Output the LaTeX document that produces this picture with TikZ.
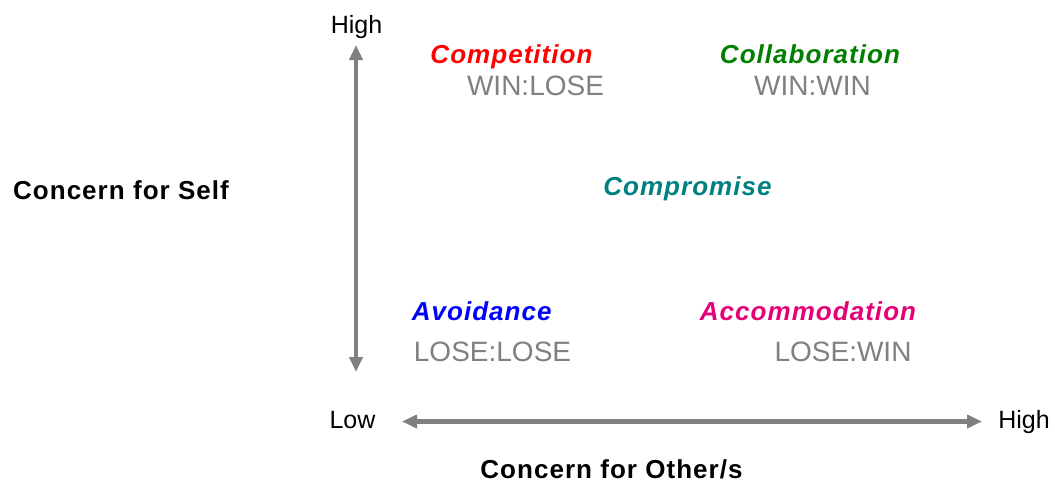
\documentclass[tikz,border=0pt]{standalone}
\usepackage{fontspec}
\setmainfont{Liberation Sans}
\usetikzlibrary{arrows.meta}
\definecolor{axisgray}{RGB}{128,128,128}
\definecolor{labelgray}{RGB}{128,128,128}
\definecolor{cred}{RGB}{255,0,0}
\definecolor{cgreen}{RGB}{0,128,0}
\definecolor{cteal}{RGB}{0,128,128}
\definecolor{cblue}{RGB}{0,0,255}
\definecolor{cmagenta}{RGB}{230,0,120}
\newfontfamily\spacedbold[LetterSpace=4]{Liberation Sans}
\begin{document}
\begin{tikzpicture}[x=1pt,y=-1pt,
  txt/.style={inner sep=0pt,anchor=base},
  axislabel/.style={txt,font=\fontsize{25}{30}\selectfont},
  axistitle/.style={txt,font=\fontsize{26}{31}\spacedbold\bfseries},
  modename/.style={txt,font=\fontsize{26}{31}\spacedbold\bfseries\itshape},
  outcome/.style={txt,text=labelgray,font=\fontsize{28}{33}\selectfont},
  axisarrow/.style={draw=axisgray,line width=4.5pt,
    {Triangle[length=15pt,width=13pt]}-{Triangle[length=15pt,width=13pt]}}]
\useasboundingbox (0,0) rectangle (1055,485);

% axis end points
\coordinate (vtop) at (356,45);
\coordinate (vbot) at (356,372);
\coordinate (hleft) at (402,421.5);
\coordinate (hright) at (982,421.5);

\draw[axisarrow] (vbot) -- (vtop);
\draw[axisarrow] (hleft) -- (hright);

% axis labels
\node[axislabel] (hightop) at (356.5,33) {High};
\node[axislabel] (low) at (352.5,428) {Low};
\node[axislabel] (highright) at (1024,428.3) {High};
\node[axistitle] (self) at (121,199.3) {Concern for Self};
\node[axistitle] (others) at (611.5,478.5) {Concern for Other/s};

% conflict modes
\node[modename,text=cred] (competition) at (511.5,63.3) {Competition};
\node[outcome] (winlose) at (535.5,95) {WIN:LOSE};
\node[modename,text=cgreen] (collaboration) at (810,63.3) {Collaboration};
\node[outcome] (winwin) at (812.5,95) {WIN:WIN};
\node[modename,text=cteal] (compromise) at (687.5,195) {Compromise};
\node[modename,text=cblue] (avoidance) at (481.7,320.7) {Avoidance};
\node[outcome] (loselose) at (492.5,361.7) {LOSE:LOSE};
\node[modename,text=cmagenta] (accommodation) at (808,320.7) {Accommodation};
\node[outcome] (losewin) at (843,361.7) {LOSE:WIN};
\end{tikzpicture}
\end{document}
